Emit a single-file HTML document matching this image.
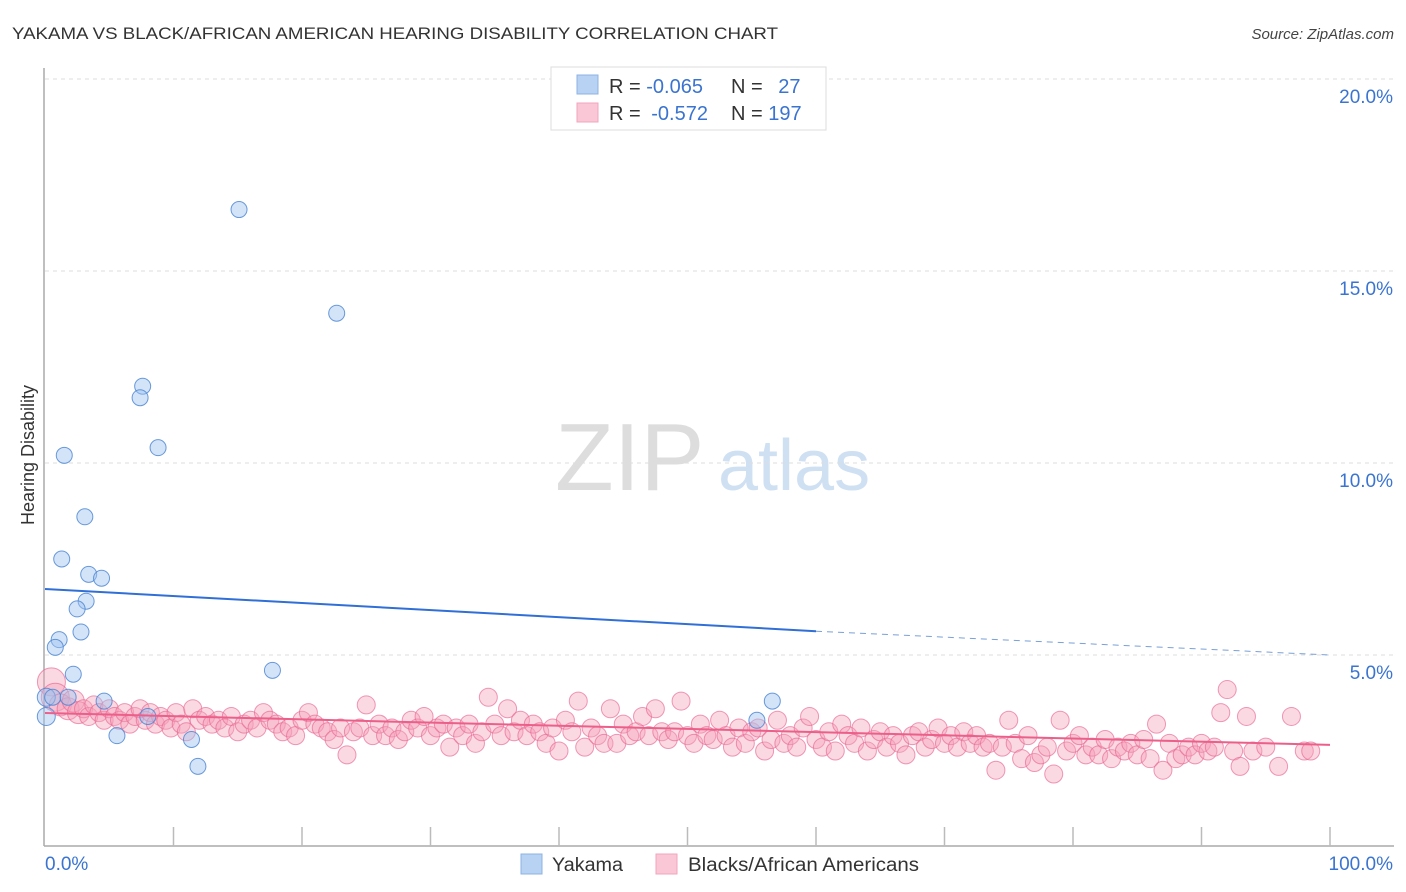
<!DOCTYPE html>
<html><head><meta charset="utf-8">
<style>
body{margin:0;background:#fff;font-family:"Liberation Sans",sans-serif;}
#wrap{position:relative;width:1406px;height:892px;overflow:hidden;}
svg text{font-family:"Liberation Sans",sans-serif;}
</style></head>
<body>
<div id="wrap">
<svg id="chart" width="1406" height="892" xmlns="http://www.w3.org/2000/svg">
<text x="12" y="39" font-size="17" fill="#333" textLength="766" lengthAdjust="spacingAndGlyphs">YAKAMA VS BLACK/AFRICAN AMERICAN HEARING DISABILITY CORRELATION CHART</text>
<text x="1394" y="39" font-size="15" fill="#444" font-style="italic" text-anchor="end">Source: ZipAtlas.com</text>
<text x="555" y="490" font-size="96" fill="#ddd" font-family="Liberation Serif">ZIP</text>
<text x="718" y="490" font-size="72" fill="#cfe0f3">atlas</text>
<text transform="translate(34,455) rotate(-90)" font-size="18" fill="#333" text-anchor="middle">Hearing Disability</text>
<g id="grid"></g><g id="pts"></g><g id="lines"></g>
<g>
<rect x="551" y="67" width="275" height="63" fill="#fff" stroke="#ddd"/>
<rect x="577" y="75" width="21" height="19" fill="#b8d2f3" stroke="#8cb2e6"/>
<rect x="577" y="103" width="21" height="19" fill="#fac7d6" stroke="#f2a4bd"/>
<text x="609" y="93" font-size="20" fill="#333">R = <tspan fill="#3a74d0">-0.065</tspan></text>
<text x="731" y="93" font-size="20" fill="#333">N = <tspan fill="#3a74d0" dx="10">27</tspan></text>
<text x="609" y="120" font-size="20" fill="#333">R = <tspan fill="#3a74d0" dx="5">-0.572</tspan></text>
<text x="731" y="120" font-size="20" fill="#333">N = <tspan fill="#3a74d0">197</tspan></text>
</g>
<g>
<rect x="521" y="854" width="21" height="20" fill="#b8d2f3" stroke="#8cb2e6"/>
<text x="552" y="871" font-size="19" fill="#333" textLength="71" lengthAdjust="spacingAndGlyphs">Yakama</text>
<rect x="656" y="854" width="21" height="20" fill="#fac7d6" stroke="#f2a4bd"/>
<text x="688" y="871" font-size="19" fill="#333" textLength="231" lengthAdjust="spacingAndGlyphs">Blacks/African Americans</text>
</g>
<text x="45" y="870" font-size="19" fill="#3a74d0">0.0%</text>
<text x="1393" y="870" font-size="19" fill="#3a74d0" text-anchor="end">100.0%</text>
</svg>
</div>
<script>
const yTicks=[5,10,15,20];
const yTickLabels=["5.0%","10.0%","15.0%","20.0%"];
const blueX=[15.1,22.7,7.6,7.4,8.8,1.5,3.1,1.3,3.4,4.4,3.2,2.5,2.8,1.1,0.8,2.2,17.7,0.1,0.6,1.8,4.6,8.0,5.6,11.4,11.9,55.4,56.6,0.1];
const blueY=[16.6,13.9,12.0,11.7,10.4,10.2,8.6,7.5,7.1,7.0,6.4,6.2,5.6,5.4,5.2,4.5,4.6,3.9,3.9,3.9,3.8,3.4,2.9,2.8,2.1,3.3,3.8,3.4];
const pinkX=[0.5,0.8,1.2,1.8,2.2,2.6,3,3.4,3.8,4.2,4.6,5,5.4,5.8,6.2,6.6,7,7.4,7.8,8.2,8.6,9,9.4,9.8,10.2,10.6,11,11.5,12,12.5,13,13.5,14,14.5,15,15.5,16,16.5,17,17.5,18,18.5,19,19.5,20,20.5,21,21.5,22,22.5,23,23.5,24,24.5,25,25.5,26,26.5,27,27.5,28,28.5,29,29.5,30,30.5,31,31.5,32,32.5,33,33.5,34,34.5,35,35.5,36,36.5,37,37.5,38,38.5,39,39.5,40,40.5,41,41.5,42,42.5,43,43.5,44,44.5,45,45.5,46,46.5,47,47.5,48,48.5,49,49.5,50,50.5,51,51.5,52,52.5,53,53.5,54,54.5,55,55.5,56,56.5,57,57.5,58,58.5,59,59.5,60,60.5,61,61.5,62,62.5,63,63.5,64,64.5,65,65.5,66,66.5,67,67.5,68,68.5,69,69.5,70,70.5,71,71.5,72,72.5,73,73.5,74,74.5,75,75.5,76,76.5,77,77.5,78,78.5,79,79.5,80,80.5,81,81.5,82,82.5,83,83.5,84,84.5,85,85.5,86,86.5,87,87.5,88,88.5,89,89.5,90,90.5,91,91.5,92,92.5,93,93.5,94,95,96,97,98,98.5];
const pinkY=[4.3,3.9,3.7,3.6,3.8,3.5,3.6,3.4,3.7,3.5,3.3,3.6,3.4,3.3,3.5,3.2,3.4,3.6,3.3,3.5,3.2,3.4,3.3,3.1,3.5,3.2,3.0,3.6,3.3,3.4,3.2,3.3,3.1,3.4,3.0,3.2,3.3,3.1,3.5,3.3,3.2,3.0,3.1,2.9,3.3,3.5,3.2,3.1,3.0,2.8,3.1,2.4,3.0,3.1,3.7,2.9,3.2,2.9,3.1,2.8,3.0,3.3,3.1,3.4,2.9,3.1,3.2,2.6,3.1,2.9,3.2,2.7,3.0,3.9,3.2,2.9,3.6,3.0,3.3,2.9,3.2,3.0,2.7,3.1,2.5,3.3,3.0,3.8,2.6,3.1,2.9,2.7,3.6,2.7,3.2,2.9,3.0,3.4,2.9,3.6,3.0,2.8,3.0,3.8,2.9,2.7,3.2,2.9,2.8,3.3,2.9,2.6,3.1,2.7,3.0,3.1,2.5,2.8,3.3,2.7,2.9,2.6,3.1,3.4,2.8,2.6,3.0,2.5,3.2,2.9,2.7,3.1,2.5,2.8,3.0,2.6,2.9,2.7,2.4,2.9,3.0,2.6,2.8,3.1,2.7,2.9,2.6,3.0,2.7,2.9,2.6,2.7,2.0,2.6,3.3,2.7,2.3,2.9,2.2,2.4,2.6,1.9,3.3,2.5,2.7,2.9,2.4,2.6,2.4,2.8,2.3,2.6,2.5,2.7,2.4,2.8,2.3,3.2,2.0,2.7,2.3,2.4,2.6,2.4,2.7,2.5,2.6,3.5,4.1,2.5,2.1,3.4,2.5,2.6,2.1,3.4,2.5,2.5];
const blueTrend=[6.72,5.62,5.0];
const pinkTrend=[3.49,2.66];
const NS="http://www.w3.org/2000/svg";
const X0=45,X1=1330,Y0=847,PY=38.4;
function sx(v){return X0+(X1-X0)*v/100;}
function sy(v){return Y0-v*PY;}
function mk(tag,attrs,parent){const e=document.createElementNS(NS,tag);for(const k in attrs)e.setAttribute(k,attrs[k]);parent.appendChild(e);return e;}
const grid=document.getElementById('grid');
yTicks.forEach((t,i)=>{
  const l=mk('line',{x1:45,x2:1394,y1:sy(t),y2:sy(t),stroke:'#ddd','stroke-dasharray':'4,4'},grid);
  
  
  const tx=mk('text',{x:1393,y:sy(t)+24,'font-size':19,fill:'#3a74d0','text-anchor':'end'},grid);
  tx.textContent=yTickLabels[i];
  
  
});
const ax=mk('line',{x1:44,x2:44,y1:68,y2:846,stroke:'#aaa','stroke-width':1.5},grid);


const bx=mk('line',{x1:44,x2:1394,y1:846,y2:846,stroke:'#aaa','stroke-width':1.5},grid);


for(let i=1;i<=10;i++){
  const t=mk('line',{x1:sx(i*10),x2:sx(i*10),y1:827,y2:846,stroke:'#bbb','stroke-width':1.5},grid);
  
  
}
const pts=document.getElementById('pts');
pinkX.forEach((x,i)=>{
  const r=x<1?14:(x<3?11:9);
  const c=mk('circle',{cx:sx(x),cy:sy(pinkY[i]),r:r,fill:'rgba(246,160,186,0.4)',stroke:'rgba(232,100,145,0.65)','stroke-width':1},pts);
  
  
});
blueX.forEach((x,i)=>{
  const c=mk('circle',{cx:sx(x),cy:sy(blueY[i]),r:x<0.5?9:8,fill:'rgba(160,196,240,0.45)',stroke:'rgba(70,130,210,0.8)','stroke-width':1},pts);
  
  
});
const lines=document.getElementById('lines');
const b1=mk('line',{x1:sx(0),y1:sy(blueTrend[0]),x2:sx(60),y2:sy(blueTrend[1]),stroke:'#2f6fd6','stroke-width':2},lines);


const b2=mk('line',{x1:sx(60),y1:sy(blueTrend[1]),x2:sx(100),y2:sy(blueTrend[2]),stroke:'#7aa0d8','stroke-width':1,'stroke-dasharray':'6,5'},lines);


const p1=mk('line',{x1:sx(0),y1:sy(pinkTrend[0]),x2:sx(100),y2:sy(pinkTrend[1]),stroke:'#ec5f8a','stroke-width':2},lines);


</script>
</body></html>
